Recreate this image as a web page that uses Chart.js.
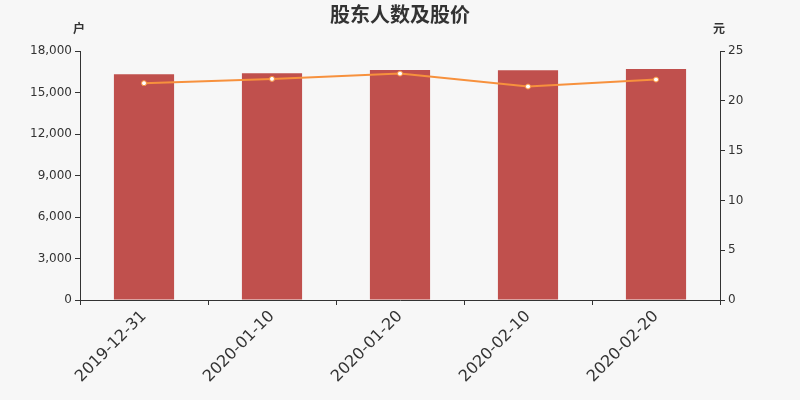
<!DOCTYPE html>
<html>
<head>
<meta charset="utf-8">
<script src="https://cdn.jsdelivr.net/npm/chart.js@4/dist/chart.umd.min.js"></script>
<style>
  html, body { margin: 0; padding: 0; background: #f7f7f7; }
  #wrap { width: 800px; height: 400px; position: relative; }
</style>
</head>
<body>
<div id="wrap"><canvas id="c"></canvas></div>
<script>
// ── Data ──────────────────────────────────────────────
const dates = ['2019-12-31', '2020-01-10', '2020-01-20', '2020-02-10', '2020-02-20'];
const holders = [16320, 16390, 16630, 16610, 16700];   // 户
const prices = [21.77, 22.2, 22.73, 21.43, 22.13];     // 元

const axisColor = '#333';
const textColor = '#333';
const fontFamily = '"DejaVu Sans", "Noto Sans CJK SC", sans-serif';

// unit labels above each y axis
const unitLabels = {
  id: 'unitLabels',
  afterDraw(chart) {
    const { ctx, chartArea } = chart;
    ctx.save();
    ctx.fillStyle = textColor;
    ctx.font = 'bold 12px "Noto Sans CJK SC", sans-serif';
    ctx.textAlign = 'center';
    ctx.textBaseline = 'middle';
    ctx.fillText('户', chartArea.left - 1, 28);
    ctx.fillText('元', chartArea.right - 1, 28);
    ctx.restore();
  },
};

new Chart(document.getElementById('c'), {
  data: {
    labels: dates,
    datasets: [
      {
        type: 'line',
        data: prices,
        yAxisID: 'yR',
        borderColor: '#f7913d',
        borderWidth: 2,
        pointRadius: 2.5,
        pointBackgroundColor: '#fff',
        pointBorderColor: '#f7913d',
        pointBorderWidth: 1,
        tension: 0,
        order: 0,
      },
      {
        type: 'bar',
        data: holders,
        yAxisID: 'yL',
        backgroundColor: '#c0504d',
        barPercentage: 0.47,
        categoryPercentage: 1,
        order: 1,
      },
    ],
  },
  options: {
    responsive: true,
    maintainAspectRatio: false,
    animation: false,
    layout: { padding: 0 },
    plugins: {
      legend: { display: false },
      tooltip: { enabled: false },
      title: {
        display: true,
        text: '股东人数及股价',
        color: textColor,
        font: { size: 20, weight: 'bold', family: '"Noto Sans CJK SC", sans-serif' },
        padding: { top: 2, bottom: 25 },
      },
    },
    scales: {
      x: {
        offset: true,
        border: { display: true, color: axisColor },
        grid: { display: true, drawOnChartArea: false, drawTicks: true, tickLength: 5, color: axisColor, offset: true },
        ticks: { color: textColor, font: { size: 16, family: fontFamily }, maxRotation: 45, minRotation: 45, padding: 2 },
        afterFit: s => { s.height = 100; },
      },
      yL: {
        position: 'left',
        min: 0, max: 18000,
        border: { display: true, color: axisColor },
        grid: { display: true, drawOnChartArea: false, drawTicks: true, tickLength: 5, color: axisColor },
        ticks: {
          stepSize: 3000,
          color: textColor,
          font: { size: 12, family: fontFamily },
          padding: 3,
          callback: v => v.toLocaleString('en-US'),
        },
        afterFit: s => { s.width = 80; },
      },
      yR: {
        position: 'right',
        min: 0, max: 25,
        border: { display: true, color: axisColor },
        grid: { display: true, drawOnChartArea: false, drawTicks: true, tickLength: 5, color: axisColor },
        ticks: { stepSize: 5, color: textColor, font: { size: 12, family: fontFamily }, padding: 3 },
        afterFit: s => { s.width = 80; },
      },
    },
  },
  plugins: [unitLabels],
});
</script>
</body>
</html>
